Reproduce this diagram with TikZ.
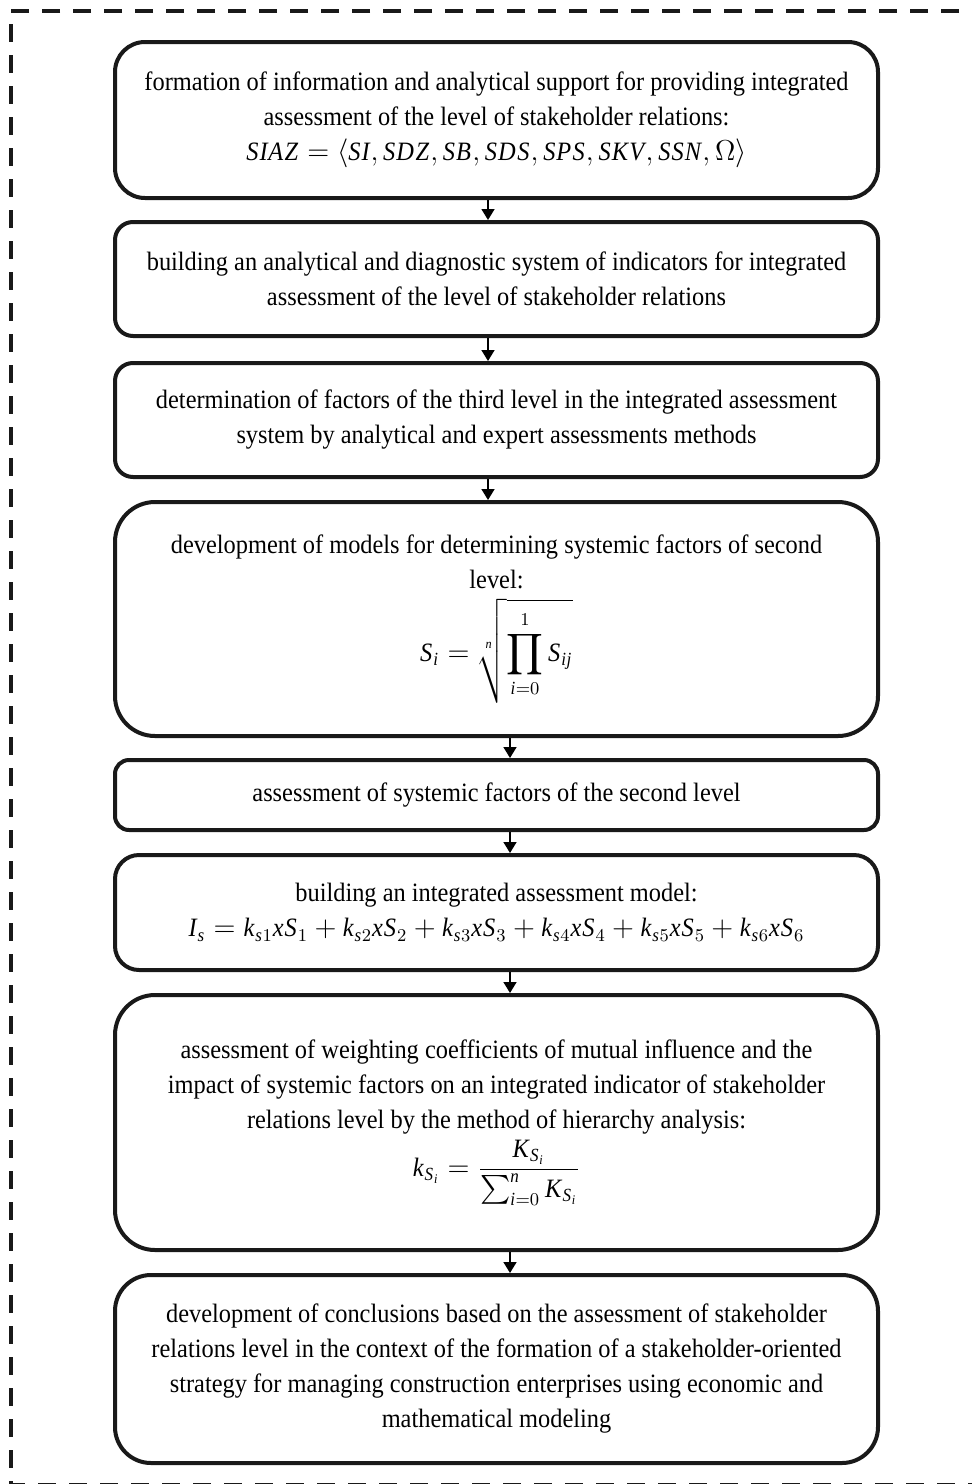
\documentclass[tikz,border=0pt]{standalone}
\usepackage{amsmath}
\usepackage{fontspec}
\setmainfont{Liberation Serif}[FakeStretch=0.92]
\usetikzlibrary{arrows.meta}
\newcommand{\mvar}[1]{\mathit{#1}}
\tikzset{
  stagebox/.style={draw=black!90, line width=2pt, fill=white, inner sep=0pt,
    minimum width=381.5pt, align=center,
    font=\fontsize{13.25}{17.5}\selectfont},
  arr/.style={line width=0.8pt, -{Triangle[length=5.5pt,width=6.5pt]}},
  frame/.style={line width=2pt, black!90, dash pattern=on 9pt off 6.5pt}
}
\begin{document}
\begin{tikzpicture}[x=0.5pt,y=-0.5pt]
\useasboundingbox (0,0) rectangle (972,1484);
\draw[frame] (990,11) -- (11,11) -- (11,1485) -- (990,1485);

\node[stagebox, minimum height=78pt, rounded corners=15pt] (b1) at (496.5,120)
  {formation of information and analytical support for providing integrated\\
   assessment of the level of stakeholder relations:\\
   $\mvar{SIAZ} = \langle \mvar{SI},\mvar{SDZ},\mvar{SB},\mvar{SDS},\mvar{SPS},\mvar{SKV},\mvar{SSN},\Omega\rangle$};
\node[stagebox, minimum height=57pt, rounded corners=9pt] (b2) at (496.5,279)
  {building an analytical and diagnostic system of indicators for integrated\\
   assessment of the level of stakeholder relations};
\node[stagebox, minimum height=57pt, rounded corners=9pt] (b3) at (496.5,420)
  {determination of factors of the third level in the integrated assessment\\
   system by analytical and expert assessments methods};
\node[stagebox, minimum height=117pt, rounded corners=20pt] (b4) at (496.5,619)
  {development of models for determining systemic factors of second\\
   level:\\[4pt]
   $\displaystyle \mvar{S}_{\mvar{i}}=\sqrt[\mvar{n}]{\prod_{\mvar{i}=0}^{1}\mvar{S}_{\mvar{ij}}}$};
\node[stagebox, minimum height=35pt, rounded corners=7pt] (b5) at (496.5,795)
  {assessment of systemic factors of the second level};
\node[stagebox, minimum height=57.5pt, rounded corners=12pt] (b6) at (496.5,912.5)
  {building an integrated assessment model:\\
   $\mvar{I}_{\mvar{s}} = \mvar{k}_{\mvar{s}1}\mvar{xS}_1 + \mvar{k}_{\mvar{s}2}\mvar{xS}_2 + \mvar{k}_{\mvar{s}3}\mvar{xS}_3 + \mvar{k}_{\mvar{s}4}\mvar{xS}_4 + \mvar{k}_{\mvar{s}5}\mvar{xS}_5 + \mvar{k}_{\mvar{s}6}\mvar{xS}_6$};
\node[stagebox, minimum height=127.5pt, rounded corners=20pt] (b7) at (496.5,1122.5)
  {assessment of weighting coefficients of mutual influence and the\\
   impact of systemic factors on an integrated indicator of stakeholder\\
   relations level by the method of hierarchy analysis:\\[2pt]
   $\displaystyle \mvar{k}_{\mvar{S}_{\mvar{i}}}=\frac{\mvar{K}_{\mvar{S}_{\mvar{i}}}}{\sum_{\mvar{i}=0}^{\mvar{n}}\mvar{K}_{\mvar{S}_{\mvar{i}}}}$};
\node[stagebox, minimum height=94pt, rounded corners=18pt] (b8) at (496.5,1369)
  {development of conclusions based on the assessment of stakeholder\\
   relations level in the context of the formation of a stakeholder-oriented\\
   strategy for managing construction enterprises using economic and\\
   mathematical modeling};

\draw[arr] ([xshift=-4.25pt]b1.south) -- ([xshift=-4.25pt]b2.north);
\draw[arr] ([xshift=-4.25pt]b2.south) -- ([xshift=-4.25pt]b3.north);
\draw[arr] ([xshift=-4.25pt]b3.south) -- ([xshift=-4.25pt]b4.north);
\draw[arr] ([xshift=6.75pt]b4.south) -- ([xshift=6.75pt]b5.north);
\draw[arr] ([xshift=6.75pt]b5.south) -- ([xshift=6.75pt]b6.north);
\draw[arr] ([xshift=6.75pt]b6.south) -- ([xshift=6.75pt]b7.north);
\draw[arr] ([xshift=6.75pt]b7.south) -- ([xshift=6.75pt]b8.north);
\end{tikzpicture}
\end{document}
